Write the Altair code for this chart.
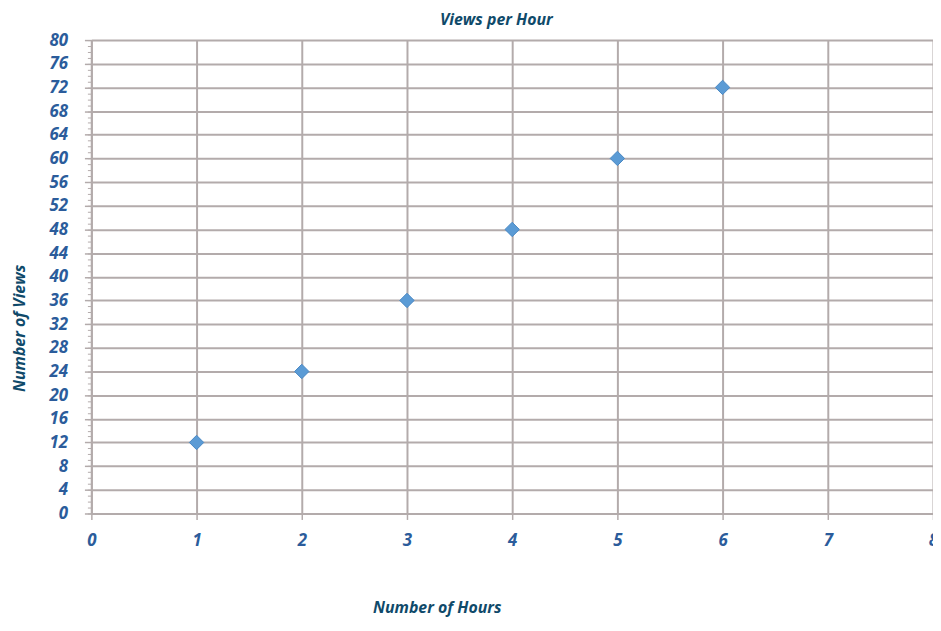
import altair as alt
import pandas as pd

hours = [1, 2, 3, 4, 5, 6]
views = [12, 24, 36, 48, 60, 72]
x_ticks = [0, 1, 2, 3, 4, 5, 6, 7, 8]
y_ticks = list(range(0, 81, 4))
y_minor = list(range(0, 81, 1))

df = pd.DataFrame({"hours": hours, "views": views})

label_color = "#2b5c9b"
title_color = "#0f4a6a"
grid_color = "#b3abab"
font = "Open Sans"

minor = alt.Chart(pd.DataFrame({"v": y_minor})).mark_tick(opacity=0).encode(
    y=alt.Y("v:Q", scale=alt.Scale(domain=[0, 80], nice=False),
            axis=alt.Axis(orient="left", values=y_minor, labels=False, title=None,
                          grid=False, domain=False, tickColor=grid_color,
                          tickSize=4, tickWidth=1)),
)

points = alt.Chart(df).mark_point(
    shape="diamond", filled=True, size=210, color="#5b9bd5", opacity=1,
    stroke="#4a88c4", strokeWidth=1
).encode(
    x=alt.X("hours:Q", scale=alt.Scale(domain=[0, 8], nice=False),
            axis=alt.Axis(values=x_ticks, title="Number of Hours", format="d",
                          grid=True, gridColor=grid_color, gridWidth=2, gridOpacity=1,
                          domainColor=grid_color, domainWidth=2,
                          tickColor=grid_color, tickSize=6, tickWidth=1.5,
                          labelFont=font, labelFontSize=17, labelFontWeight="bold",
                          labelFontStyle="italic", labelColor=label_color,
                          labelPadding=13, labelFlush=False,
                          titleFont=font, titleFontSize=16, titleFontWeight="bold",
                          titleFontStyle="italic", titleColor=title_color,
                          titleX=348, titleY=95, titleAlign="center",
                          titleBaseline="middle")),
    y=alt.Y("views:Q", scale=alt.Scale(domain=[0, 80], nice=False),
            axis=alt.Axis(orient="left", values=y_ticks, title="Number of Views",
                          format="d",
                          grid=True, gridColor=grid_color, gridWidth=2, gridOpacity=1,
                          domainColor=grid_color, domainWidth=2,
                          tickColor=grid_color, tickSize=7, tickWidth=1.5,
                          labelFont=font, labelFontSize=17, labelFontWeight="bold",
                          labelFontStyle="italic", labelColor=label_color,
                          labelPadding=17, labelFlush=False,
                          titleFont=font, titleFontSize=16, titleFontWeight="bold",
                          titleFontStyle="italic", titleColor=title_color,
                          titleAngle=270, titleX=-72, titleY=290,
                          titleAlign="center", titleBaseline="middle")),
)

chart = alt.layer(points, minor).resolve_axis(y="independent").properties(
    width=848, height=477,
    title=alt.TitleParams("Views per Hour", font=font, fontSize=16, fontWeight="bold",
                          fontStyle="italic", color=title_color, anchor="middle",
                          offset=3, dx=-16),
    autosize=alt.AutoSizeParams(type="none"),
    padding={"left": 84, "top": 30, "right": 0, "bottom": 106},
).configure_view(fill="#fbfbfb", stroke=None).configure(background="white")

chart.save("out.html", embed_options={"renderer": "svg", "actions": False})
